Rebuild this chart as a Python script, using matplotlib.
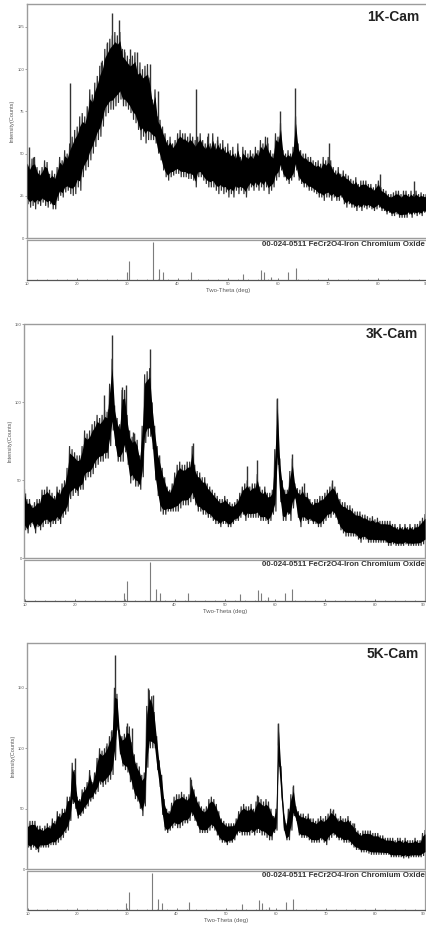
import numpy as np
import matplotlib
matplotlib.use("Agg")
import matplotlib.pyplot as plt

plt.rcParams['font.family'] = ['Liberation Sans', 'DejaVu Sans']

# ---------- data (every 0.5 deg from 10 to 90) ----------
hi_1k = [48,44,47,48,42,40,42,46,45,38,
         40,38,42,48,46,52,50,56,60,64,
         66,72,74,72,78,88,85,92,96,102,
         105,112,115,118,120,122,120,122,112,110,
         108,106,108,110,102,104,100,102,103,95,
         82,88,72,70,66,62,58,60,56,58,
         62,64,62,62,60,62,60,58,60,62,
         58,56,60,56,62,56,60,56,58,54,
         56,52,54,50,56,48,54,52,50,52,
         50,54,52,58,56,60,56,52,50,62,
         60,68,52,50,52,50,54,72,56,52,
         50,50,48,48,46,45,46,44,48,46,
         48,46,42,40,42,38,40,38,37,35,
         34,36,32,34,34,34,32,32,30,32,
         34,30,29,28,26,26,27,28,28,26,
         28,28,26,28,26,28,26,27,26,26,
         26]
lo_1k = [20,18,19,17,20,19,21,19,18,20,
         17,17,22,25,24,27,28,26,25,26,
         30,28,36,40,42,46,50,54,58,60,
         66,72,74,76,76,78,80,82,78,78,
         76,74,70,68,64,58,60,56,58,58,
         58,56,50,46,40,36,34,36,37,38,
         38,36,36,36,35,35,34,30,36,36,
         34,32,30,30,30,28,26,28,26,27,
         24,26,24,28,26,28,26,24,28,30,
         28,30,28,30,28,30,26,28,30,34,
         36,40,36,34,32,34,36,40,34,32,
         30,30,28,28,27,26,24,24,22,24,
         24,22,24,22,22,24,20,18,20,18,
         18,16,18,16,18,17,18,17,16,17,
         18,16,16,14,15,13,13,14,12,12,
         12,12,14,12,14,13,14,13,15,14,
         15]
hi_3k = [44,38,38,34,36,38,38,44,44,46,
         44,42,40,46,44,48,50,58,72,70,
         68,66,66,72,82,80,82,86,88,92,
         90,92,95,94,112,128,98,90,86,108,
         108,92,82,78,80,76,66,85,118,120,
         122,100,85,72,66,58,52,46,44,48,
         55,60,62,60,60,62,62,72,60,56,
         55,52,52,48,46,44,42,40,38,38,
         40,38,36,35,36,38,42,46,48,50,
         46,48,48,54,46,44,46,42,42,44,
         70,102,64,50,44,44,56,64,48,45,
         44,46,42,42,38,36,38,38,40,40,
         42,44,46,48,46,42,38,36,36,34,
         34,32,30,30,30,28,28,27,26,27,
         25,26,24,24,24,24,24,22,22,20,
         22,20,22,20,22,20,22,22,24,26,
         28]
lo_3k = [18,16,20,22,16,20,18,20,22,22,
         20,22,22,24,22,26,28,30,38,40,
         42,40,44,44,50,52,52,54,58,60,
         62,62,64,64,72,82,72,62,62,62,
         68,60,48,50,46,46,44,52,74,78,
         78,70,50,40,30,28,28,30,30,30,
         30,30,32,34,34,34,36,38,34,30,
         30,28,28,26,26,24,22,22,20,22,
         22,20,20,22,24,24,26,28,24,26,
         26,26,26,26,24,24,24,22,24,28,
         30,60,36,24,24,28,24,32,38,26,
         20,24,24,22,24,22,22,20,20,22,
         24,26,26,28,26,22,18,16,14,14,
         14,14,14,12,10,12,12,10,10,10,
         10,10,10,10,10,8,8,9,8,8,
         8,8,9,8,8,8,8,8,8,9,
         10]
hi_5k = [38,40,40,40,36,36,34,36,38,36,
         42,40,48,46,50,50,60,60,88,82,
         60,58,66,68,72,82,72,80,92,100,
         98,100,104,110,115,150,145,115,110,112,
         118,118,105,95,88,85,78,80,135,148,
         143,130,110,90,78,58,50,48,55,60,
         62,62,64,62,60,62,74,66,60,56,
         52,50,52,58,60,58,54,48,42,40,
         38,38,38,38,42,48,52,54,52,52,
         54,50,56,60,58,56,58,56,50,44,
         50,120,85,50,38,50,62,68,52,48,
         46,46,44,46,42,42,40,42,44,42,
         44,46,50,48,46,42,44,42,42,44,
         40,38,34,32,30,32,32,32,32,30,
         30,30,28,28,26,26,26,26,24,26,
         26,24,26,24,24,24,26,24,24,30,
         32]
lo_5k = [18,16,18,16,14,18,18,18,18,20,
         20,20,22,24,26,30,32,40,54,50,
         42,44,46,50,52,56,58,62,64,70,
         68,70,72,74,78,90,115,95,85,82,
         80,72,66,58,56,50,44,52,84,100,
         100,100,82,68,45,32,30,32,34,36,
         34,34,36,38,38,40,44,40,36,30,
         30,30,30,32,34,32,28,24,22,22,
         20,22,22,24,28,30,28,28,28,28,
         30,28,30,30,28,28,26,24,24,30,
         32,85,60,32,24,24,32,44,40,28,
         26,26,26,24,22,22,22,22,24,22,
         20,24,26,28,26,24,24,22,22,22,
         20,18,16,16,14,14,14,13,12,12,
         12,12,12,12,12,12,10,10,10,10,
         10,9,10,9,10,10,10,10,10,11,
         12]

spike_x_1k = [10.3, 11.2, 18.6, 24.8, 26.0, 27.0, 28.4, 29.4, 30.5, 32.0, 34.5, 36.0, 43.6, 46.1, 47.8, 57.9, 60.4, 63.4, 70.1, 80.4, 87.1]
spike_y_1k = [54, 48, 92, 104, 116, 133, 129, 112, 112, 110, 103, 87, 88, 62, 58, 60, 75, 89, 56, 38, 34]
spike_x_3k = [10.1, 25.8, 26.6, 27.4, 29.5, 30.3, 31.6, 35.0, 43.6, 54.4, 56.5, 60.5, 63.5, 65.9, 71.4]
spike_y_3k = [42, 105, 96, 143, 110, 111, 81, 134, 74, 59, 63, 103, 67, 48, 50]
spike_x_5k = [19.5, 25.8, 26.8, 27.7, 30.0, 31.0, 34.3, 35.3, 42.8, 56.2, 60.5, 63.5, 71.4, 75.7]
spike_y_5k = [92, 102, 114, 177, 121, 117, 150, 144, 76, 61, 121, 70, 50, 38]

ref_theta = [29.9, 30.4, 35.1, 36.2, 37.1, 42.6, 53.1, 56.6, 57.2, 58.7, 62.0, 63.5]
ref_height = [20, 50, 100, 30, 20, 21, 16, 27, 20, 9, 21, 31]

names = ['1K-Cam', '3K-Cam', '5K-Cam']
y_label = 'Intensity(Counts)'
ref_label = '00-024-0511 FeCr2O4-Iron Chromium Oxide'
y_ticks = [[0, 25, 50, 75, 100, 125], [0, 50, 100, 150], [0, 50, 100, 150]]
x_tick_labels = [10, 20, 30, 40, 50, 60, 70, 80, 90]

series = [(hi_1k, lo_1k, spike_x_1k, spike_y_1k),
          (hi_3k, lo_3k, spike_x_3k, spike_y_3k),
          (hi_5k, lo_5k, spike_x_5k, spike_y_5k)]

# ---------- layout in pixels: left, right, top, bottom, sub top, sub bottom, y max ----------
W, H = 427, 926
boxes = [(27, 428.6, 4, 238, 240, 280, 138.6),
         (24.5, 425, 323.7, 558.3, 560, 600.7, 150.5),
         (27.5, 425, 643, 869.3, 871.3, 910, 187)]
title_px = [(419.5, 17), (417.7, 334), (419, 653.5)]
GREY = '#9c9c9c'
TXT = '#5a5a5a'

fig = plt.figure(figsize=(W / 100, H / 100), dpi=100, facecolor='white')


def axes_px(l, r, t, b):
    return fig.add_axes([l / W, 1 - b / H, (r - l) / W, (b - t) / H])


for i, (hi, lo, sx, sy) in enumerate(series):
    l, r, t, b, st, sb, ymax = boxes[i]
    ax = axes_px(l, r, t, b)
    hi = np.array(hi, float)
    lo = np.array(lo, float)
    x = np.arange(10, 90.25, 0.5)
    # jagged trace running between the read upper and lower edges
    zx = np.column_stack([x, x + 0.22]).ravel()
    zy = np.column_stack([hi, lo]).ravel()
    keep = zx <= 90
    ax.plot(zx[keep], zy[keep], color='#303030', lw=0.85, solid_joinstyle='miter', zorder=2)
    # dense black core of the trace
    span = hi - lo
    ax.fill_between(x, lo + 0.13 * span, hi - 0.13 * span, color='black', lw=0, zorder=3)
    # isolated tall spikes
    base = np.interp(sx, x, (lo + hi) / 2)
    ax.vlines(sx, base, sy, color='#333333', lw=1.0, zorder=2)

    ax.set_xlim(10, 90)
    ax.set_ylim(0, ymax)
    ax.set_xticks([])
    ax.set_yticks(y_ticks[i])
    ax.tick_params(axis='y', length=1.2, width=0.4, color=TXT, labelsize=3.0,
                   labelcolor=TXT, pad=0.8)
    ax.set_ylabel(y_label, fontsize=4.1, color=TXT, labelpad=2.0)
    for s in ax.spines.values():
        s.set_color(GREY)
        s.set_linewidth(1.0)
    fig.text(title_px[i][0] / W, 1 - title_px[i][1] / H, names[i], ha='right', va='center',
             fontsize=10, fontweight='bold', color='#222222')

    sub = axes_px(l, r, st, sb)
    sub.vlines(ref_theta, 0, ref_height, color='#7c7c7c', lw=0.8)
    sub.set_xlim(10, 90)
    sub.set_ylim(0, 105)
    sub.set_yticks([])
    sub.set_xticks(x_tick_labels)
    sub.set_xticks(np.arange(10, 91, 2), minor=True)
    sub.tick_params(axis='x', which='major', direction='in', length=1.6, width=0.5,
                    color='#444444', labelsize=3.0, labelcolor=TXT, pad=1.6)
    sub.tick_params(axis='x', which='minor', direction='in', length=1.0, width=0.4,
                    color='#444444')
    sub.get_xticklabels()[-1].set_ha('right')
    sub.set_xlabel('Two-Theta (deg)', fontsize=4.3, color=TXT, labelpad=1.6)
    for s in sub.spines.values():
        s.set_color(GREY)
        s.set_linewidth(0.9)
    sub.spines['bottom'].set_color('#555555')
    fig.text(424.8 / W, 1 - (st + 4.5) / H, ref_label, ha='right', va='center',
             fontsize=5.65, fontweight='bold', color='#333333')

fig.savefig('out.png', dpi=100, facecolor='white')
